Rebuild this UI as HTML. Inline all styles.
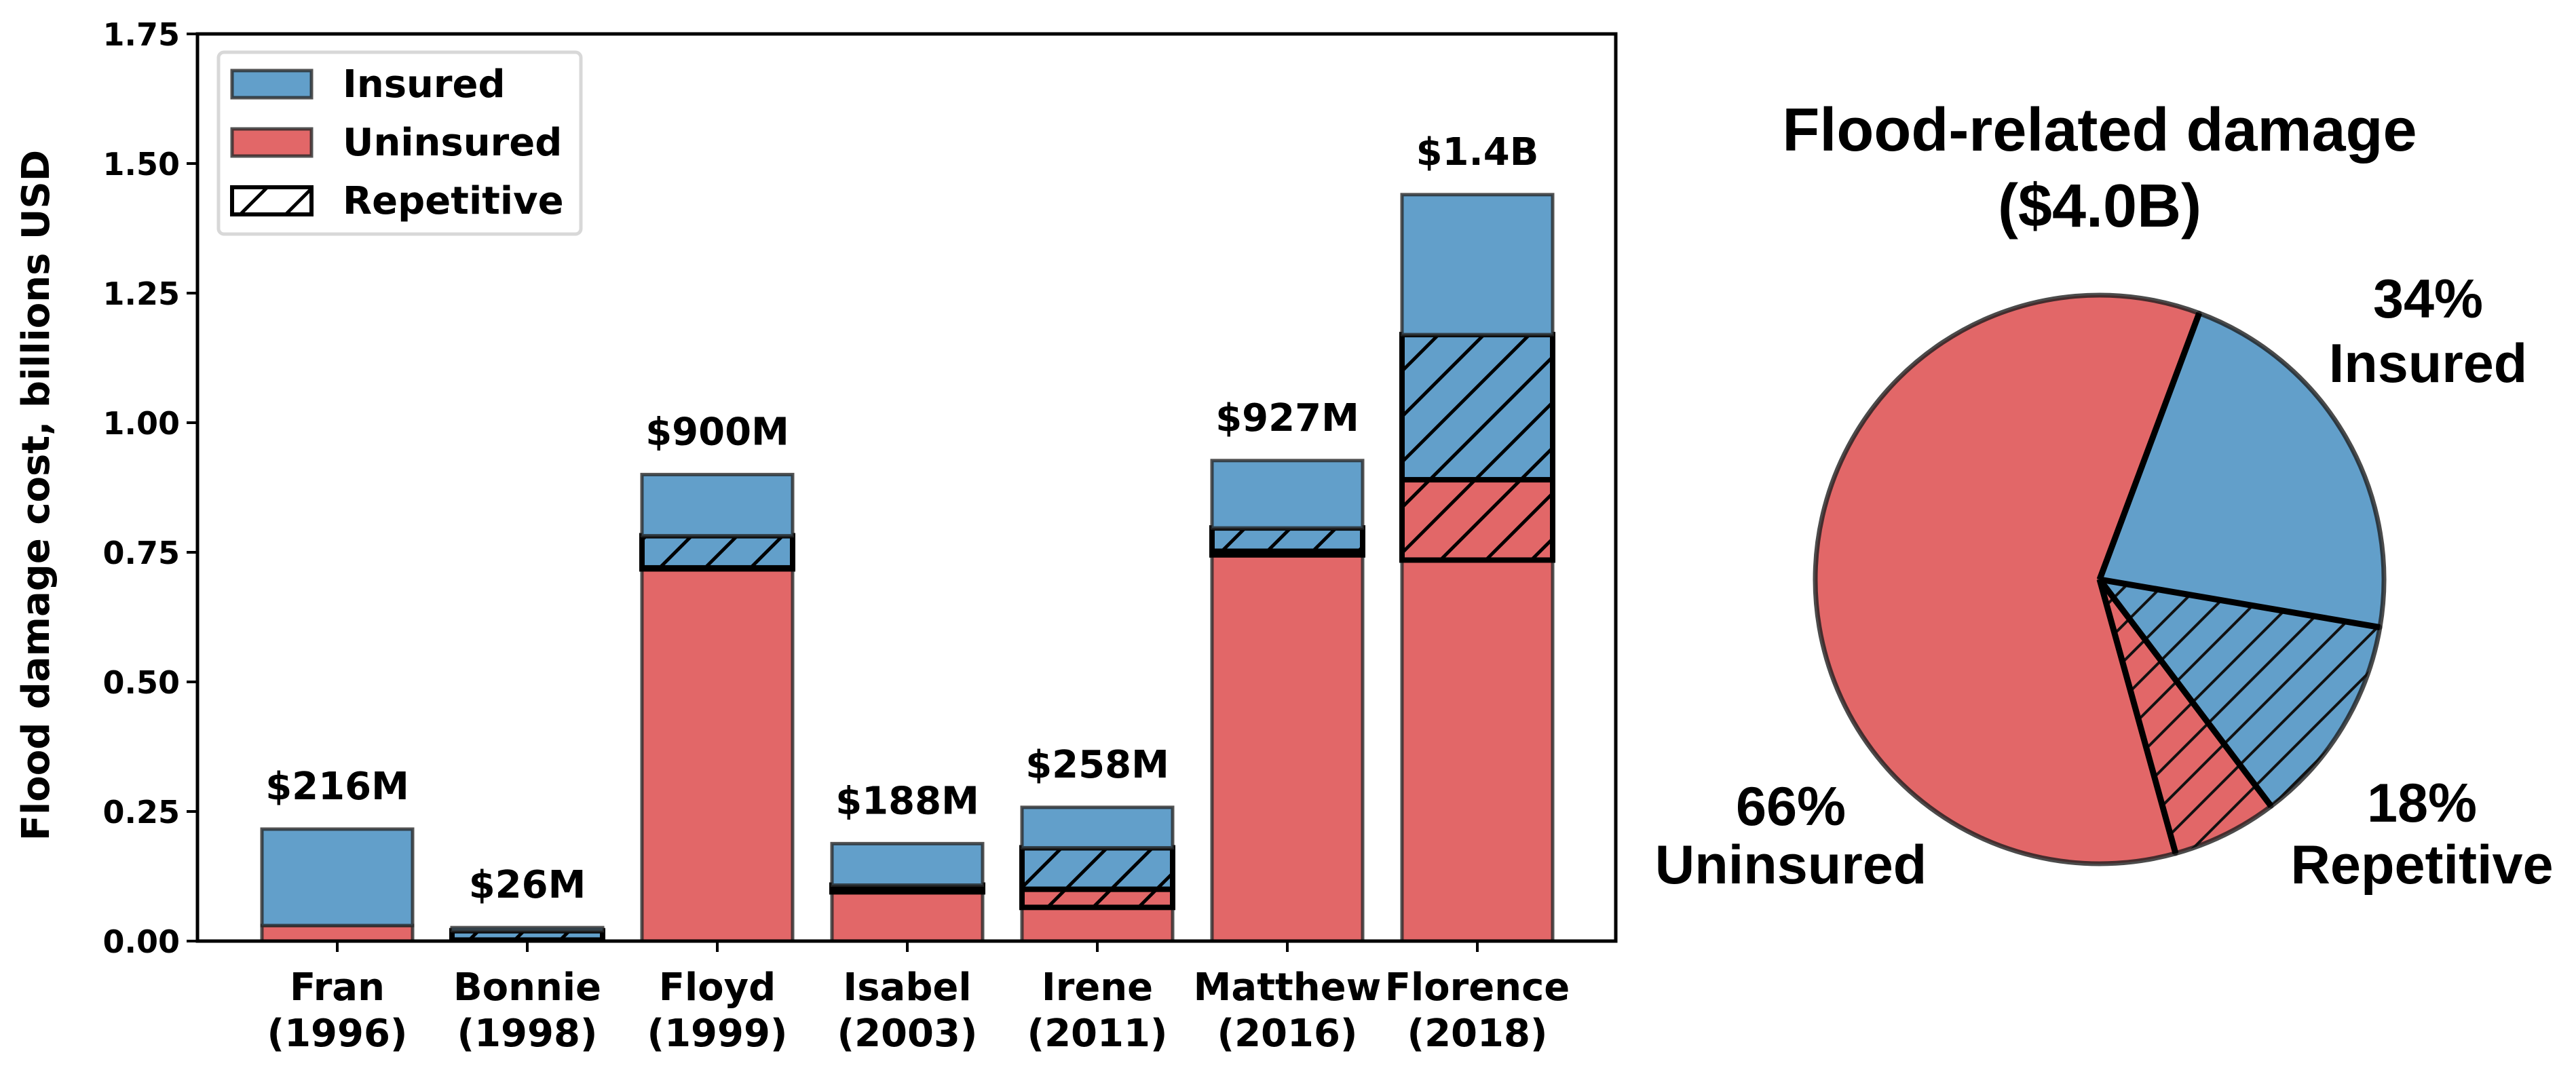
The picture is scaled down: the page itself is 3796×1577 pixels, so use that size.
<!DOCTYPE html>
<html><head><meta charset="utf-8"><style>
html,body{margin:0;padding:0;background:#fff;}
svg{display:block;}
.dv{font-family:"DejaVu Sans","Liberation Sans",sans-serif;font-weight:bold;}
.ls{font-family:"Liberation Sans",sans-serif;font-weight:bold;}
</style></head><body>
<svg id="chart" width="3796" height="1577" viewBox="0 0 3796 1577" xmlns="http://www.w3.org/2000/svg">
<defs>
<pattern id="hatch" patternUnits="userSpaceOnUse" width="67" height="67">
<line x1="-10" y1="77" x2="77" y2="-10" stroke="#000" stroke-width="5"/>
<line x1="-10" y1="10" x2="10" y2="-10" stroke="#000" stroke-width="5"/>
<line x1="57" y1="77" x2="77" y2="57" stroke="#000" stroke-width="5"/>
</pattern>
<pattern id="hatchp" patternUnits="userSpaceOnUse" width="54" height="54">
<line x1="-10" y1="64" x2="64" y2="-10" stroke="#111" stroke-width="4"/>
<line x1="-10" y1="10" x2="10" y2="-10" stroke="#111" stroke-width="4"/>
<line x1="44" y1="64" x2="64" y2="44" stroke="#111" stroke-width="4"/>
</pattern>
</defs>
<g id="bars"></g>
<g id="pie"></g>
</svg>
<script>
const categories = ["Fran", "Bonnie", "Floyd", "Isabel", "Irene", "Matthew", "Florence"];
const years = ["(1996)", "(1998)", "(1999)", "(2003)", "(2011)", "(2016)", "(2018)"];
const uninsured = [0.03, 0.002, 0.718, 0.095, 0.065, 0.745, 0.735];
const uninsuredRep = [0.0, 0.0, 0.002, 0.005, 0.035, 0.007, 0.155];
const insuredRep = [0.0, 0.018, 0.062, 0.008, 0.08, 0.045, 0.28];
const insured = [0.186, 0.006, 0.118, 0.08, 0.078, 0.13, 0.27];
const totalLabels = ["$216M", "$26M", "$900M", "$188M", "$258M", "$927M", "$1.4B"];
const yTicks = [0, 0.25, 0.5, 0.75, 1.0, 1.25, 1.5, 1.75];
const yTickLabels = ["0.00", "0.25", "0.50", "0.75", "1.00", "1.25", "1.50", "1.75"];
const pieValues = [22, 12, 6, 60];
const pieStartDeg = 20.5;

const NS = "http://www.w3.org/2000/svg";
function mk(tag, attrs, parent) {
  const e = document.createElementNS(NS, tag);
  for (const k in attrs) e.setAttribute(k, attrs[k]);
  parent.appendChild(e);
  return e;
}
const BLUE = "#629fca", RED = "#e26768";
const AX = {left: 291, right: 2381, top: 50, bottom: 1387};
const yMax = 1.75;
function yScale(v) { return AX.bottom - v / yMax * (AX.bottom - AX.top); }
const slot = 280, firstCenter = 497, barW = 222;
function xScale(i) { return firstCenter + i * slot; }

const gb = document.getElementById("bars");
categories.forEach((c, i) => {
  const x = xScale(i) - barW / 2;
  let base = 0;
  const segs = [
    [uninsured[i], RED, false, "uninsured"],
    [uninsuredRep[i], RED, true, "uninsured-repetitive"],
    [insuredRep[i], BLUE, true, "insured-repetitive"],
    [insured[i], BLUE, false, "insured"]
  ];
  segs.forEach(s => {
    const v = s[0];
    const y1 = yScale(base + v), y0 = yScale(base);
    const r = mk("rect", {x: x, y: y1, width: barW, height: Math.max(0, y0 - y1), fill: s[1], stroke: "rgba(40,40,40,0.8)", "stroke-width": 5}, gb);
    
    
    if (s[2] && v > 0) {
      const h = mk("rect", {x: x, y: y1, width: barW, height: Math.max(0, y0 - y1), fill: "url(#hatch)", stroke: "#000", "stroke-width": 8}, gb);
      
      
    }
    base += v;
  });
  const total = uninsured[i] + uninsuredRep[i] + insuredRep[i] + insured[i];
  const t = mk("text", {x: xScale(i), y: yScale(total) - 44, "text-anchor": "middle", "font-size": 56, class: "dv"}, gb);
  t.textContent = totalLabels[i];
  
  
  const tk = mk("line", {x1: xScale(i), x2: xScale(i), y1: AX.bottom, y2: AX.bottom + 16, stroke: "#000", "stroke-width": 4}, gb);
  
  
  const xl = mk("text", {x: xScale(i), y: 1474, "text-anchor": "middle", "font-size": 56, class: "dv"}, gb);
  xl.textContent = c;
  
  
  const yl = mk("text", {x: xScale(i), y: 1542, "text-anchor": "middle", "font-size": 56, class: "dv"}, gb);
  yl.textContent = years[i];
  
  
});
const fr = mk("rect", {x: AX.left, y: AX.top, width: AX.right - AX.left, height: AX.bottom - AX.top, fill: "none", stroke: "#000", "stroke-width": 5}, gb);


yTicks.forEach((v, k) => {
  const l = mk("line", {x1: AX.left - 16, x2: AX.left, y1: yScale(v), y2: yScale(v), stroke: "#000", "stroke-width": 4}, gb);
  
  
  const t = mk("text", {x: AX.left - 26, y: yScale(v) + 17, "text-anchor": "end", "font-size": 46, class: "dv"}, gb);
  t.textContent = yTickLabels[k];
  
  
});
const yt = mk("text", {x: 0, y: 0, transform: "translate(72,730) rotate(-90)", "text-anchor": "middle", "font-size": 56, class: "dv"}, gb);
yt.textContent = "Flood damage cost, billions USD";


const lg = mk("g", {}, gb);


mk("rect", {x: 322, y: 77, width: 534, height: 268, rx: 8, fill: "#fff", stroke: "#d8d8d8", "stroke-width": 5}, lg);
const legItems = [["Insured", BLUE, false], ["Uninsured", RED, false], ["Repetitive", "#fff", true]];
legItems.forEach((it, k) => {
  const yy = 104 + k * 86;
  const sw = mk("rect", {x: 342, y: yy, width: 117, height: 40, fill: it[1], stroke: it[2] ? "#000" : "rgba(40,40,40,0.8)", "stroke-width": it[2] ? 6 : 5}, lg);
  
  
  if (it[2]) mk("rect", {x: 342, y: yy, width: 117, height: 40, fill: "url(#hatch)", stroke: "#000", "stroke-width": 6}, lg);
  const t = mk("text", {x: 505, y: yy + 39, "font-size": 56, class: "dv"}, lg);
  t.textContent = it[0];
  
  
});

const gp = document.getElementById("pie");
const cx = 3094, cy = 854, R = 419;
const sum = pieValues.reduce((a, b) => a + b, 0);
const pieFill = [BLUE, BLUE, RED, RED];
const pieHatch = [false, true, true, false];
const pieNames = ["insured", "insured-repetitive", "uninsured-repetitive", "uninsured"];
let ang = pieStartDeg;
function pt(a, r) { const rad = a * Math.PI / 180; return [cx + r * Math.sin(rad), cy - r * Math.cos(rad)]; }
pieValues.forEach((v, k) => {
  const a0 = ang, a1 = ang + v / sum * 360;
  const p0 = pt(a0, R), p1 = pt(a1, R);
  const large = (a1 - a0) > 180 ? 1 : 0;
  const d = `M${cx},${cy} L${p0[0]},${p0[1]} A${R},${R} 0 ${large} 1 ${p1[0]},${p1[1]} Z`;
  const s = mk("path", {d: d, fill: pieFill[k], stroke: "rgba(30,30,30,0.8)", "stroke-width": 7, "stroke-linejoin": "round"}, gp);
  
  
  if (pieHatch[k]) mk("path", {d: d, fill: "url(#hatchp)", stroke: "none"}, gp);
  ang = a1;
});
[pieStartDeg, pieStartDeg + pieValues[0] / sum * 360, pieStartDeg + (pieValues[0] + pieValues[1]) / sum * 360, pieStartDeg + (pieValues[0] + pieValues[1] + pieValues[2]) / sum * 360].forEach(a => {
  const p = pt(a, R);
  const l = mk("line", {x1: cx, y1: cy, x2: p[0], y2: p[1], stroke: "#000", "stroke-width": 9}, gp);
  
  
});
const pieTexts = [
  ["Flood-related damage", 3094, 222, "pie-title"],
  ["($4.0B)", 3094, 334, "pie-subtitle"],
  ["34%", 3578, 468, "pie-label-insured-pct"],
  ["Insured", 3578, 563, "pie-label-insured"],
  ["66%", 2639, 1216, "pie-label-uninsured-pct"],
  ["Uninsured", 2639, 1302, "pie-label-uninsured"],
  ["18%", 3569, 1211, "pie-label-repetitive-pct"],
  ["Repetitive", 3569, 1302, "pie-label-repetitive"]
];
pieTexts.forEach(p => {
  const t = mk("text", {x: p[1], y: p[2], "text-anchor": "middle", "font-size": p[3] === "pie-title" || p[3] === "pie-subtitle" ? 90 : 81, class: "ls"}, gp);
  t.textContent = p[0];
  
  
});
</script>
</body></html>
